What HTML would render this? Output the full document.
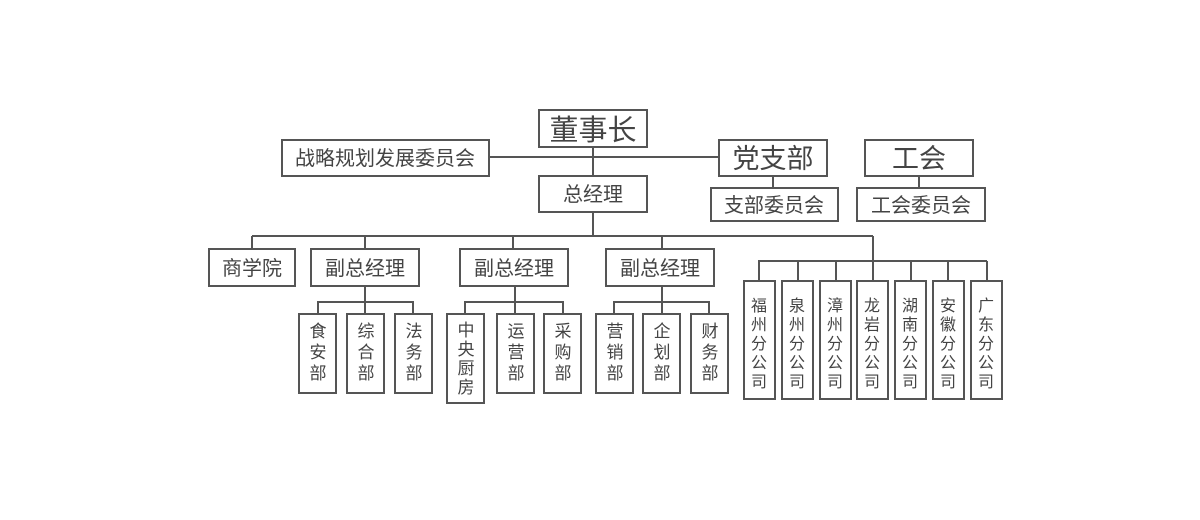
<!DOCTYPE html>
<html><head><meta charset="utf-8"><style>
html,body{margin:0;padding:0;background:#fff;}
svg{display:block;}
text{font-family:"Liberation Sans","Noto Sans CJK SC",sans-serif;fill:#444;text-anchor:middle;}
rect{fill:#fff;stroke:#555;stroke-width:2;}
line,polyline{stroke:#555;stroke-width:2;fill:none;}
</style></head><body>
<svg width="1200" height="520" viewBox="0 0 1200 520">
<line x1="489" y1="157" x2="720" y2="157"/>
<line x1="593" y1="147" x2="593" y2="176"/>
<line x1="593" y1="212" x2="593" y2="236"/>
<line x1="252" y1="236" x2="873" y2="236"/>
<line x1="252" y1="236" x2="252" y2="249"/>
<line x1="365" y1="236" x2="365" y2="249"/>
<line x1="513" y1="236" x2="513" y2="249"/>
<line x1="662" y1="236" x2="662" y2="249"/>
<line x1="873" y1="236" x2="873" y2="261"/>
<line x1="773" y1="176" x2="773" y2="188"/>
<line x1="919" y1="176" x2="919" y2="188"/>
<line x1="365" y1="286" x2="365" y2="302"/>
<polyline points="318,314 318,302 413,302 413,314"/>
<line x1="365" y1="302" x2="365" y2="314"/>
<line x1="515" y1="286" x2="515" y2="302"/>
<polyline points="465,314 465,302 563,302 563,314"/>
<line x1="515" y1="302" x2="515" y2="314"/>
<line x1="662" y1="286" x2="662" y2="302"/>
<polyline points="614,314 614,302 709,302 709,314"/>
<line x1="662" y1="302" x2="662" y2="314"/>
<line x1="758" y1="261" x2="987" y2="261"/>
<line x1="759" y1="261" x2="759" y2="281"/>
<line x1="798" y1="261" x2="798" y2="281"/>
<line x1="836" y1="261" x2="836" y2="281"/>
<line x1="873" y1="261" x2="873" y2="281"/>
<line x1="911" y1="261" x2="911" y2="281"/>
<line x1="948" y1="261" x2="948" y2="281"/>
<line x1="987" y1="261" x2="987" y2="281"/>

<rect x="539" y="110" width="108" height="37"/><text x="593" y="140" font-size="29">董事长</text>
<rect x="282" y="140" width="207" height="36"/><text x="385" y="165" font-size="20">战略规划发展委员会</text>
<rect x="719" y="140" width="108" height="36"/><text x="773" y="168" font-size="27">党支部</text>
<rect x="865" y="140" width="108" height="36"/><text x="919" y="168" font-size="27">工会</text>
<rect x="539" y="176" width="108" height="36"/><text x="593" y="201" font-size="20">总经理</text>
<rect x="711" y="188" width="127" height="33"/><text x="774" y="212" font-size="20">支部委员会</text>
<rect x="857" y="188" width="128" height="33"/><text x="921" y="212" font-size="20">工会委员会</text>

<rect x="209" y="249" width="86" height="37"/><text x="252" y="275" font-size="20">商学院</text>
<rect x="311" y="249" width="108" height="37"/><text x="365" y="275" font-size="20">副总经理</text>
<rect x="460" y="249" width="108" height="37"/><text x="514" y="275" font-size="20">副总经理</text>
<rect x="606" y="249" width="108" height="37"/><text x="660" y="275" font-size="20">副总经理</text>

<rect x="299" y="314" width="37" height="79"/><text x="318" y="337" font-size="17">食</text><text x="318" y="358" font-size="17">安</text><text x="318" y="379" font-size="17">部</text>
<rect x="347" y="314" width="37" height="79"/><text x="366" y="337" font-size="17">综</text><text x="366" y="358" font-size="17">合</text><text x="366" y="379" font-size="17">部</text>
<rect x="395" y="314" width="37" height="79"/><text x="414" y="337" font-size="17">法</text><text x="414" y="358" font-size="17">务</text><text x="414" y="379" font-size="17">部</text>
<rect x="447" y="314" width="37" height="89"/><text x="466" y="336" font-size="17">中</text><text x="466" y="355" font-size="17">央</text><text x="466" y="374" font-size="17">厨</text><text x="466" y="393" font-size="17">房</text>
<rect x="497" y="314" width="37" height="79"/><text x="516" y="337" font-size="17">运</text><text x="516" y="358" font-size="17">营</text><text x="516" y="379" font-size="17">部</text>
<rect x="544" y="314" width="37" height="79"/><text x="563" y="337" font-size="17">采</text><text x="563" y="358" font-size="17">购</text><text x="563" y="379" font-size="17">部</text>
<rect x="596" y="314" width="37" height="79"/><text x="615" y="337" font-size="17">营</text><text x="615" y="358" font-size="17">销</text><text x="615" y="379" font-size="17">部</text>
<rect x="643" y="314" width="37" height="79"/><text x="662" y="337" font-size="17">企</text><text x="662" y="358" font-size="17">划</text><text x="662" y="379" font-size="17">部</text>
<rect x="691" y="314" width="37" height="79"/><text x="710" y="337" font-size="17">财</text><text x="710" y="358" font-size="17">务</text><text x="710" y="379" font-size="17">部</text>

<rect x="744" y="281" width="31" height="118"/>
<rect x="782" y="281" width="31" height="118"/>
<rect x="820" y="281" width="31" height="118"/>
<rect x="857" y="281" width="31" height="118"/>
<rect x="895" y="281" width="31" height="118"/>
<rect x="933" y="281" width="31" height="118"/>
<rect x="971" y="281" width="31" height="118"/>
<text x="759" y="311" font-size="16">福</text><text x="759" y="330" font-size="16">州</text><text x="759" y="349" font-size="16">分</text><text x="759" y="368" font-size="16">公</text><text x="759" y="387" font-size="16">司</text>
<text x="797" y="311" font-size="16">泉</text><text x="797" y="330" font-size="16">州</text><text x="797" y="349" font-size="16">分</text><text x="797" y="368" font-size="16">公</text><text x="797" y="387" font-size="16">司</text>
<text x="835" y="311" font-size="16">漳</text><text x="835" y="330" font-size="16">州</text><text x="835" y="349" font-size="16">分</text><text x="835" y="368" font-size="16">公</text><text x="835" y="387" font-size="16">司</text>
<text x="872" y="311" font-size="16">龙</text><text x="872" y="330" font-size="16">岩</text><text x="872" y="349" font-size="16">分</text><text x="872" y="368" font-size="16">公</text><text x="872" y="387" font-size="16">司</text>
<text x="910" y="311" font-size="16">湖</text><text x="910" y="330" font-size="16">南</text><text x="910" y="349" font-size="16">分</text><text x="910" y="368" font-size="16">公</text><text x="910" y="387" font-size="16">司</text>
<text x="948" y="311" font-size="16">安</text><text x="948" y="330" font-size="16">徽</text><text x="948" y="349" font-size="16">分</text><text x="948" y="368" font-size="16">公</text><text x="948" y="387" font-size="16">司</text>
<text x="986" y="311" font-size="16">广</text><text x="986" y="330" font-size="16">东</text><text x="986" y="349" font-size="16">分</text><text x="986" y="368" font-size="16">公</text><text x="986" y="387" font-size="16">司</text>
</svg>
</body></html>
